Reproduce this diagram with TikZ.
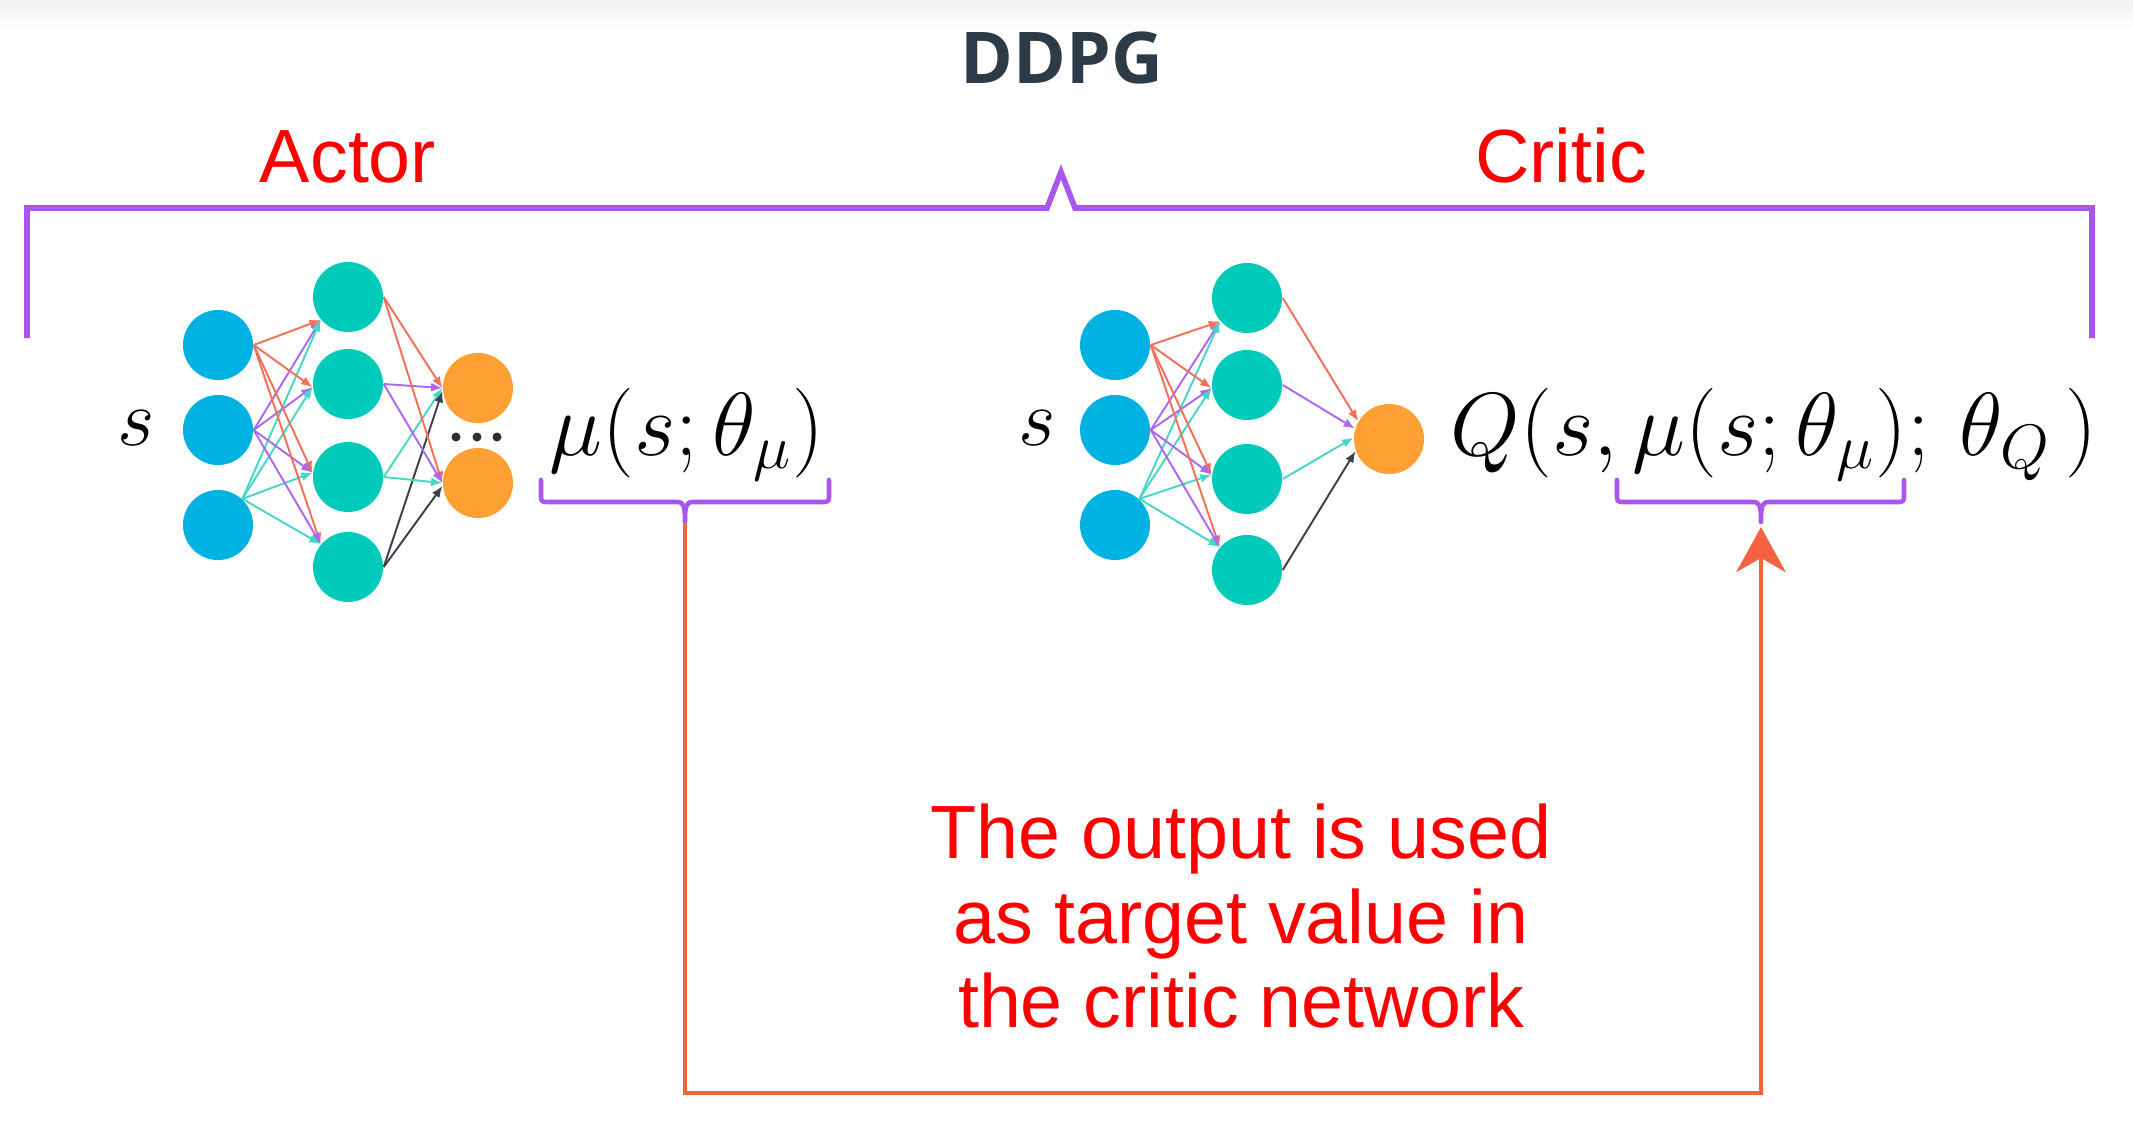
\documentclass[tikz,border=0pt]{standalone}
\usepackage{fix-cm}
\usepackage[no-math]{fontspec}
\setmainfont{Liberation Sans}
\newfontfamily\titlefont{Open Sans}
\usetikzlibrary{arrows.meta}
\definecolor{inblue}{RGB}{0,178,226}
\definecolor{hidteal}{RGB}{0,202,185}
\definecolor{outorange}{RGB}{255,160,52}
\definecolor{conred}{RGB}{242,112,88}
\definecolor{conpurple}{RGB}{172,104,240}
\definecolor{conteal}{RGB}{72,214,198}
\definecolor{congray}{RGB}{58,64,74}
\definecolor{bracepurple}{RGB}{168,86,238}
\definecolor{linered}{RGB}{244,98,64}
\definecolor{titlegray}{RGB}{45,58,72}
\definecolor{dotgray}{RGB}{40,48,58}
\begin{document}
\begin{tikzpicture}[x=0.01cm,y=-0.01cm,
  neuron/.style={circle, minimum size=0.7cm, inner sep=0pt},
  inn/.style={neuron, fill=inblue},
  hid/.style={neuron, fill=hidteal},
  outn/.style={neuron, fill=outorange},
  con/.style={line width=0.55pt, -{Latex[length=3.2pt,width=2.6pt]}},
  cr/.style={con, conred},
  cp/.style={con, conpurple},
  ct/.style={con, conteal},
  cg/.style={con, congray},
  redtext/.style={text=red, inner sep=0pt, font=\fontsize{21.45}{24}\selectfont},
  mathtext/.style={inner sep=0pt, font=\fontsize{23}{28}\selectfont},
  bigmath/.style={inner sep=0pt, font=\fontsize{25.5}{30}\selectfont},
  brace/.style={draw=bracepurple, line width=1.3pt, line join=round, line cap=round},
  bigbrace/.style={draw=bracepurple, line width=1.6pt, line join=miter},
  feedback/.style={draw=linered, line width=1.4pt, -{Stealth[length=12.8pt,width=14pt,inset=4pt]}}
]
\useasboundingbox (0,0) rectangle (2133,1139);
\shade[top color=black!5, bottom color=white] (0,0) rectangle (2133,30);

% title and labels
\node[anchor=base, inner sep=0pt, text=titlegray, font=\fontsize{20.3}{24}\titlefont\bfseries] (title) at (1062,83) {DDPG};
\node[redtext, anchor=base] (actor) at (348,182) {Actor};
\node[redtext, anchor=base] (critic) at (1561,182) {Critic};

% top brace
\coordinate (tbl) at (27,338);
\coordinate (tbr) at (2092,338);
\coordinate (tpk) at (1061,172);
\draw[bigbrace] (tbl) -- (27,208) -- (1047,208) -- (tpk) -- (1075,208) -- (2092,208) -- (tbr);

% actor network
\node[inn] (ai1) at (218,345) {};
\node[inn] (ai2) at (218,430) {};
\node[inn] (ai3) at (218,525) {};
\node[hid] (ah1) at (348,297) {};
\node[hid] (ah2) at (348,384) {};
\node[hid] (ah3) at (348,477) {};
\node[hid] (ah4) at (348,567) {};
\node[outn] (ao1) at (478,388) {};
\node[outn] (ao2) at (478,483) {};
\foreach \dx in {456,477,497} \fill[dotgray] (\dx,437) circle (4.5);
\foreach \h/\a in {1/220,2/185,3/173,4/140} {
  \draw[cr] (ai1.east) -- (ah\h.\a);
  \draw[cp] (ai2.east) -- (ah\h.\a);
  \draw[ct] (ai3.47) -- (ah\h.\a);
}
\foreach \o in {1,2} {
  \draw[cr] (ah1.east) -- (ao\o.180);
  \draw[cp] (ah2.east) -- (ao\o.180);
  \draw[ct] (ah3.east) -- (ao\o.180);
  \draw[cg] (ah4.east) -- (ao\o.185);
}
\node[mathtext, anchor=base] (as) at (136,445) {$s$};
\node[bigmath, anchor=base west] (amu) at (549,455) {$\mu(s;\theta_\mu)$};

% critic network
\node[inn] (ci1) at (1115,345) {};
\node[inn] (ci2) at (1115,430) {};
\node[inn] (ci3) at (1115,525) {};
\node[hid] (ch1) at (1247,298) {};
\node[hid] (ch2) at (1247,385) {};
\node[hid] (ch3) at (1247,479) {};
\node[hid] (ch4) at (1247,570) {};
\node[outn] (co) at (1389,439) {};
\foreach \h/\a in {1/221,2/185,3/173,4/140} {
  \draw[cr] (ci1.east) -- (ch\h.\a);
  \draw[cp] (ci2.east) -- (ch\h.\a);
  \draw[ct] (ci3.47) -- (ch\h.\a);
}
\draw[cr] (ch1.east) -- (co.150);
\draw[cp] (ch2.east) -- (co.163);
\draw[ct] (ch3.east) -- (co.178);
\draw[cg] (ch4.east) -- (co.200);
\node[mathtext, anchor=base] (cs) at (1037,445) {$s$};
\node[bigmath, anchor=base west] (cq) at (1450,455) {$Q(s,\mu(s;\theta_\mu);\,\theta_Q\,)$};

% small braces
\coordinate (atip) at (685,522);
\draw[brace] (541,480) -- (541,494) .. controls (541,502) .. (549,502) -- (677,502)
  .. controls (684,502) and (685,506) .. (atip) .. controls (685,506) and (686,502) .. (693,502)
  -- (821,502) .. controls (829,502) .. (829,494) -- (829,480);
\coordinate (ctip) at (1761,522);
\draw[brace] (1617,480) -- (1617,494) .. controls (1617,502) .. (1625,502) -- (1753,502)
  .. controls (1760,502) and (1761,506) .. (ctip) .. controls (1761,506) and (1762,502) .. (1769,502)
  -- (1896,502) .. controls (1904,502) .. (1904,494) -- (1904,480);

% feedback line
\coordinate (fstart) at (685,524);
\coordinate (fb1) at (685,1093);
\coordinate (fb2) at (1761,1093);
\coordinate (fend) at (1761,527);
\draw[feedback] (fstart) -- (fb1) -- (fb2) -- (fend);

% note
\node[redtext, anchor=base] (note1) at (1241,858) {The output is used};
\node[redtext, anchor=base] (note2) at (1241,943) {as target value in};
\node[redtext, anchor=base] (note3) at (1241,1027) {the critic network};
\end{tikzpicture}
\end{document}
